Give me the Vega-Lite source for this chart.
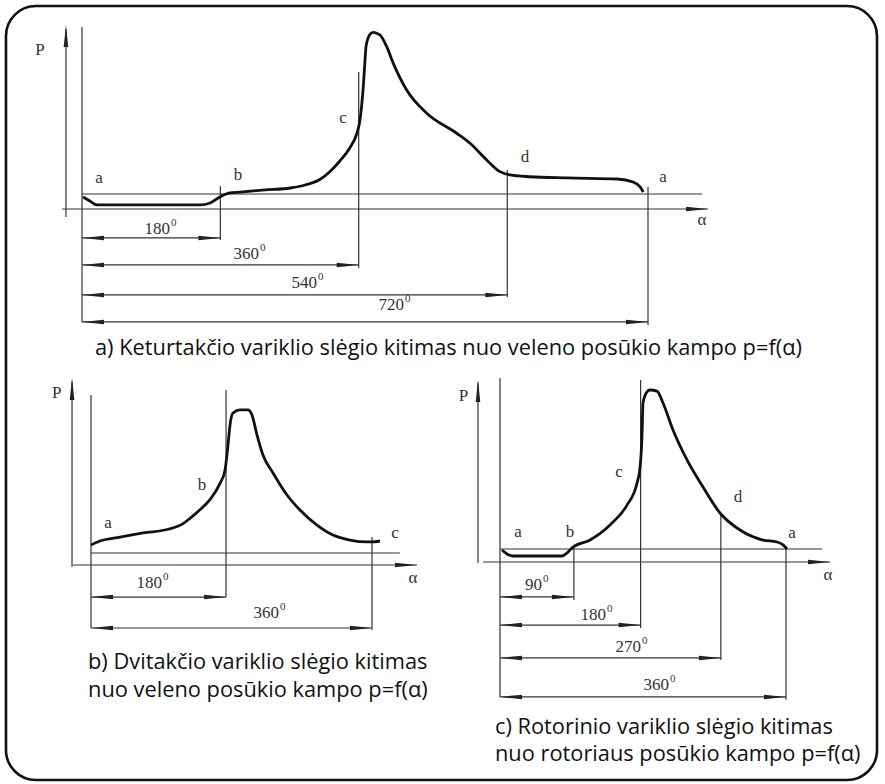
{
  "$schema": "https://vega.github.io/schema/vega-lite/v6.json",
  "padding": 0,
  "background": "white",
  "spacing": 0,
  "bounds": "flush",
  "config": {
    "view": {"stroke": null},
    "axis": {"disable": true},
    "legend": {"disable": true}
  },
  "resolve": {"scale": {"x": "independent", "y": "independent"}},
  "datasets": {
    "frameA": [{"a": -96.7, "p": 13.53, "a2": 1011.3, "p2": -38.07}],
    "curveA": [
      {"a": 1.3, "p": 0.8}, {"a": 10, "p": 0.53}, {"a": 19, "p": 0.27}, {"a": 86, "p": 0.27}, {"a": 150, "p": 0.27},
      {"a": 163, "p": 0.4}, {"a": 175.5, "p": 0.8}, {"a": 188, "p": 1.07}, {"a": 201, "p": 1.13}, {"a": 233, "p": 1.27},
      {"a": 265, "p": 1.4}, {"a": 284, "p": 1.6}, {"a": 303, "p": 1.98}, {"a": 315.5, "p": 2.5}, {"a": 328, "p": 3.2},
      {"a": 341, "p": 4.1}, {"a": 349.4, "p": 5.0}, {"a": 353.6, "p": 5.93}, {"a": 355.8, "p": 6.93}, {"a": 357.8, "p": 8.15},
      {"a": 359.5, "p": 9.5}, {"a": 361.3, "p": 10.82}, {"a": 364, "p": 11.4}, {"a": 367, "p": 11.68}, {"a": 370.6, "p": 11.78},
      {"a": 376, "p": 11.68}, {"a": 379.1, "p": 11.6}, {"a": 387.6, "p": 10.82}, {"a": 396, "p": 9.71}, {"a": 413, "p": 7.93},
      {"a": 438.5, "p": 6.38}, {"a": 476.6, "p": 5.05}, {"a": 493.6, "p": 4.38}, {"a": 514.8, "p": 3.27}, {"a": 531.7, "p": 2.49},
      {"a": 544.5, "p": 2.27}, {"a": 569.9, "p": 2.15}, {"a": 617, "p": 2.07}, {"a": 681, "p": 2.0}, {"a": 701, "p": 1.8},
      {"a": 710, "p": 1.47}, {"a": 714, "p": 1.13}
    ],
    "segA": [
      {"a": -20.4, "p": -0.53, "a2": -20.4, "p2": 12.0},
      {"a": 0, "p": 12.13, "a2": 0, "p2": -7.53},
      {"a": 176, "p": 1.53, "a2": 176, "p2": -2.07},
      {"a": 352, "p": 9.13, "a2": 352, "p2": -3.93},
      {"a": 541, "p": 2.6, "a2": 541, "p2": -5.87},
      {"a": 720, "p": 1.47, "a2": 720, "p2": -7.73},
      {"a": 0, "p": 1, "a2": 788.7, "p2": 1},
      {"a": -25.4, "p": 0, "a2": 796.4, "p2": 0},
      {"a": 0, "p": -1.93, "a2": 176, "p2": -1.93},
      {"a": 0, "p": -3.73, "a2": 352, "p2": -3.73},
      {"a": 0, "p": -5.73, "a2": 541, "p2": -5.73},
      {"a": 0, "p": -7.53, "a2": 720, "p2": -7.53}
    ],
    "arrowA": [
      {"a": -20.4, "p": 12.27, "dir": "up"}, {"a": 796.4, "p": 0, "dir": "right"},
      {"a": 0, "p": -1.93, "dir": "left"}, {"a": 176, "p": -1.93, "dir": "right"},
      {"a": 0, "p": -3.73, "dir": "left"}, {"a": 352, "p": -3.73, "dir": "right"},
      {"a": 0, "p": -5.73, "dir": "left"}, {"a": 541, "p": -5.73, "dir": "right"},
      {"a": 0, "p": -7.53, "dir": "left"}, {"a": 720, "p": -7.53, "dir": "right"}
    ],
    "labA": [
      {"a": -53.4, "p": 10.6, "t": "P"}, {"a": 21.6, "p": 2.07, "t": "a"}, {"a": 198.4, "p": 2.27, "t": "b"},
      {"a": 332, "p": 6.07, "t": "c"}, {"a": 563.5, "p": 3.47, "t": "d"}, {"a": 739, "p": 2.13, "t": "a"},
      {"a": 788.7, "p": -0.73, "t": "α"}
    ],
    "degA": [
      {"a": 111.9, "p": -1.3, "t": "180"}, {"a": 225.1, "p": -3.0, "t": "360"},
      {"a": 298.9, "p": -4.93, "t": "540"}, {"a": 409.6, "p": -6.4, "t": "720"}
    ],
    "capA": [{"a": 16.5, "p": -9.27, "t": "a) Keturtakčio variklio slėgio kitimas nuo veleno posūkio kampo p=f(α)"}],
    "curveB": [
      {"a": 0, "p": 1.67}, {"a": 11.5, "p": 2.0}, {"a": 37.2, "p": 2.33}, {"a": 66.6, "p": 2.67}, {"a": 100, "p": 3.0},
      {"a": 118, "p": 3.45}, {"a": 128, "p": 3.95}, {"a": 139.6, "p": 4.6}, {"a": 152.4, "p": 5.45}, {"a": 165.3, "p": 6.8},
      {"a": 171.7, "p": 7.9}, {"a": 175.5, "p": 10.0}, {"a": 178.1, "p": 11.67}, {"a": 181.9, "p": 12.67}, {"a": 190.9, "p": 12.92},
      {"a": 201.1, "p": 12.92}, {"a": 206.2, "p": 12.5}, {"a": 212.7, "p": 10.83}, {"a": 220.3, "p": 9.17}, {"a": 233.2, "p": 7.67},
      {"a": 251.1, "p": 5.83}, {"a": 267.7, "p": 4.58}, {"a": 289.5, "p": 3.33}, {"a": 310, "p": 2.5}, {"a": 331.8, "p": 2.08},
      {"a": 353.6, "p": 1.92}, {"a": 360, "p": 1.92}, {"a": 370.2, "p": 2.0}
    ],
    "segB": [
      {"a": -24.3, "p": -0.17, "a2": -24.3, "p2": 15.3},
      {"a": 0, "p": 14.17, "a2": 0, "p2": -5.25},
      {"a": 173, "p": 14.58, "a2": 173, "p2": -2.67},
      {"a": 360, "p": 2.33, "a2": 360, "p2": -5.42},
      {"a": 0, "p": 1, "a2": 395.8, "p2": 1},
      {"a": -23, "p": 0, "a2": 417.6, "p2": 0},
      {"a": 0, "p": -2.67, "a2": 173, "p2": -2.67},
      {"a": 0, "p": -5.25, "a2": 360, "p2": -5.25}
    ],
    "arrowB": [
      {"a": -24.3, "p": 15.58, "dir": "up"}, {"a": 417.6, "p": 0, "dir": "right"},
      {"a": 0, "p": -2.67, "dir": "left"}, {"a": 173, "p": -2.67, "dir": "right"},
      {"a": 0, "p": -5.25, "dir": "left"}, {"a": 360, "p": -5.25, "dir": "right"}
    ],
    "labB": [
      {"a": -44, "p": 14.33, "t": "P"}, {"a": 21.8, "p": 3.5, "t": "a"}, {"a": 142.2, "p": 6.67, "t": "b"},
      {"a": 389.4, "p": 2.67, "t": "c"}, {"a": 412.5, "p": -1.08, "t": "α"}
    ],
    "degB": [
      {"a": 90.9, "p": -1.5, "t": "180"}, {"a": 240.8, "p": -4.0, "t": "360"}
    ],
    "capB": [
      {"a": -3.8, "p": -8.08, "t": "b) Dvitakčio variklio slėgio kitimas"},
      {"a": -3.8, "p": -10.42, "t": "nuo veleno posūkio kampo p=f(α)"}
    ],
    "curveC": [
      {"a": 2.5, "p": 0.92}, {"a": 8.8, "p": 0.62}, {"a": 16.4, "p": 0.46}, {"a": 50.4, "p": 0.46}, {"a": 78, "p": 0.46},
      {"a": 84.3, "p": 0.69}, {"a": 90.6, "p": 1.08}, {"a": 113.3, "p": 1.69}, {"a": 138.5, "p": 2.85}, {"a": 159.9, "p": 4.38},
      {"a": 172.5, "p": 6.08}, {"a": 176.2, "p": 7.23}, {"a": 178.7, "p": 9.62}, {"a": 180, "p": 12.23}, {"a": 185, "p": 13.08},
      {"a": 188.8, "p": 13.23}, {"a": 197.6, "p": 13.15}, {"a": 205.2, "p": 12.23}, {"a": 217.8, "p": 10.15}, {"a": 235.4, "p": 7.85},
      {"a": 255.5, "p": 5.77}, {"a": 276.9, "p": 3.77}, {"a": 302.1, "p": 2.46}, {"a": 331.1, "p": 1.69}, {"a": 348.7, "p": 1.54},
      {"a": 356.2, "p": 1.31}, {"a": 361.3, "p": 1.0}
    ],
    "segC": [
      {"a": -27.7, "p": -0.08, "a2": -27.7, "p2": 13.8},
      {"a": 0, "p": 14.15, "a2": 0, "p2": -10.38},
      {"a": 93, "p": 1.15, "a2": 93, "p2": -2.92},
      {"a": 177, "p": 14, "a2": 177, "p2": -5.08},
      {"a": 278, "p": 3.77, "a2": 278, "p2": -7.54},
      {"a": 360, "p": 1, "a2": 360, "p2": -10.6},
      {"a": 0, "p": 1, "a2": 405.3, "p2": 1},
      {"a": -21.4, "p": 0, "a2": 415.4, "p2": 0},
      {"a": 0, "p": -2.69, "a2": 93, "p2": -2.69},
      {"a": 0, "p": -4.85, "a2": 177, "p2": -4.85},
      {"a": 0, "p": -7.38, "a2": 278, "p2": -7.38},
      {"a": 0, "p": -10.38, "a2": 360, "p2": -10.38}
    ],
    "arrowC": [
      {"a": -27.7, "p": 14, "dir": "up"}, {"a": 415.4, "p": 0, "dir": "right"},
      {"a": 0, "p": -2.69, "dir": "left"}, {"a": 93, "p": -2.69, "dir": "right"},
      {"a": 0, "p": -4.85, "dir": "left"}, {"a": 177, "p": -4.85, "dir": "right"},
      {"a": 0, "p": -7.38, "dir": "left"}, {"a": 278, "p": -7.38, "dir": "right"},
      {"a": 0, "p": -10.38, "dir": "left"}, {"a": 360, "p": -10.38, "dir": "right"}
    ],
    "labC": [
      {"a": -46, "p": 12.77, "t": "P"}, {"a": 22.7, "p": 2.31, "t": "a"}, {"a": 88.1, "p": 2.31, "t": "b"},
      {"a": 149.8, "p": 6.92, "t": "c"}, {"a": 299.6, "p": 5.0, "t": "d"}, {"a": 367.6, "p": 2.23, "t": "a"},
      {"a": 412.9, "p": -1.0, "t": "α"}
    ],
    "degC": [
      {"a": 52.9, "p": -1.77, "t": "90"}, {"a": 133.4, "p": -4.08, "t": "180"},
      {"a": 177.5, "p": -6.54, "t": "270"}, {"a": 212.7, "p": -9.46, "t": "360"}
    ],
    "capC": [
      {"a": -6.3, "p": -12.69, "t": "c) Rotorinio variklio slėgio kitimas"},
      {"a": -6.3, "p": -14.77, "t": "nuo rotoriaus posūkio kampo p=f(α)"}
    ]
  },
  "vconcat": [
    {
      "width": 885,
      "height": 360,
      "encoding": {
        "x": {"field": "a", "type": "quantitative", "scale": {"domain": [0, 720], "range": [82, 648], "nice": false, "zero": false}},
        "y": {"field": "p", "type": "quantitative", "scale": {"domain": [0, 12], "range": [209, 29], "nice": false, "zero": false}}
      },
      "layer": [
        {"data": {"name": "frameA"}, "mark": {"type": "rect", "filled": false, "stroke": "#111", "strokeWidth": 2.6, "cornerRadius": 30},
         "encoding": {"x2": {"field": "a2"}, "y2": {"field": "p2"}}},
        {"data": {"name": "segA"}, "mark": {"type": "rule", "color": "#333", "strokeWidth": 1.2},
         "encoding": {"x2": {"field": "a2"}, "y2": {"field": "p2"}}},
        {"data": {"name": "curveA"}, "mark": {"type": "line", "color": "#111", "strokeWidth": 2.8, "interpolate": "monotone"}, "encoding": {}},
        {"data": {"name": "arrowA"}, "mark": {"type": "point", "filled": true, "size": 484, "color": "#222", "opacity": 1, "strokeWidth": 0},
         "encoding": {"shape": {"field": "dir", "type": "nominal", "legend": null, "scale": {"domain": ["left", "right", "up"], "range": ["M0,0L2,-0.21L2,0.21Z", "M0,0L-2,-0.21L-2,0.21Z", "M0,0L-0.21,2L0.21,2Z"]}}}},
        {"data": {"name": "labA"}, "mark": {"type": "text", "font": "Liberation Serif", "fontSize": 17, "color": "#333", "baseline": "middle", "align": "center"},
         "encoding": {"text": {"field": "t"}}},
        {"data": {"name": "degA"}, "mark": {"type": "text", "font": "Liberation Serif", "fontSize": 17, "color": "#333", "baseline": "middle", "align": "right"},
         "encoding": {"text": {"field": "t"}}},
        {"data": {"name": "degA"}, "mark": {"type": "text", "font": "Liberation Serif", "fontSize": 11, "color": "#333", "baseline": "middle", "align": "left", "dx": 1, "dy": -6},
         "encoding": {"text": {"value": "0"}}},
        {"data": {"name": "capA"}, "mark": {"type": "text", "font": "Open Sans", "fontSize": 21.8, "color": "#111", "baseline": "middle", "align": "left"},
         "encoding": {"text": {"field": "t"}}}
      ]
    },
    {
      "hconcat": [
        {
          "width": 440,
          "height": 424,
          "encoding": {
            "x": {"field": "a", "type": "quantitative", "scale": {"domain": [0, 360], "range": [91, 372], "nice": false, "zero": false}},
            "y": {"field": "p", "type": "quantitative", "scale": {"domain": [0, 14], "range": [205, 37], "nice": false, "zero": false}}
          },
          "layer": [
            {"data": {"name": "segB"}, "mark": {"type": "rule", "color": "#333", "strokeWidth": 1.2},
             "encoding": {"x2": {"field": "a2"}, "y2": {"field": "p2"}}},
            {"data": {"name": "curveB"}, "mark": {"type": "line", "color": "#111", "strokeWidth": 2.8, "interpolate": "monotone"}, "encoding": {}},
            {"data": {"name": "arrowB"}, "mark": {"type": "point", "filled": true, "size": 484, "color": "#222", "opacity": 1, "strokeWidth": 0},
             "encoding": {"shape": {"field": "dir", "type": "nominal", "legend": null, "scale": {"domain": ["left", "right", "up"], "range": ["M0,0L2,-0.21L2,0.21Z", "M0,0L-2,-0.21L-2,0.21Z", "M0,0L-0.21,2L0.21,2Z"]}}}},
            {"data": {"name": "labB"}, "mark": {"type": "text", "font": "Liberation Serif", "fontSize": 17, "color": "#333", "baseline": "middle", "align": "center"},
             "encoding": {"text": {"field": "t"}}},
            {"data": {"name": "degB"}, "mark": {"type": "text", "font": "Liberation Serif", "fontSize": 17, "color": "#333", "baseline": "middle", "align": "right"},
             "encoding": {"text": {"field": "t"}}},
            {"data": {"name": "degB"}, "mark": {"type": "text", "font": "Liberation Serif", "fontSize": 11, "color": "#333", "baseline": "middle", "align": "left", "dx": 1, "dy": -6},
             "encoding": {"text": {"value": "0"}}},
            {"data": {"name": "capB"}, "mark": {"type": "text", "font": "Open Sans", "fontSize": 21.8, "color": "#111", "baseline": "middle", "align": "left"},
             "encoding": {"text": {"field": "t"}}}
          ]
        },
        {
          "width": 445,
          "height": 424,
          "encoding": {
            "x": {"field": "a", "type": "quantitative", "scale": {"domain": [0, 360], "range": [60, 346], "nice": false, "zero": false}},
            "y": {"field": "p", "type": "quantitative", "scale": {"domain": [0, 14], "range": [202, 20], "nice": false, "zero": false}}
          },
          "layer": [
            {"data": {"name": "segC"}, "mark": {"type": "rule", "color": "#333", "strokeWidth": 1.2},
             "encoding": {"x2": {"field": "a2"}, "y2": {"field": "p2"}}},
            {"data": {"name": "curveC"}, "mark": {"type": "line", "color": "#111", "strokeWidth": 2.8, "interpolate": "monotone"}, "encoding": {}},
            {"data": {"name": "arrowC"}, "mark": {"type": "point", "filled": true, "size": 484, "color": "#222", "opacity": 1, "strokeWidth": 0},
             "encoding": {"shape": {"field": "dir", "type": "nominal", "legend": null, "scale": {"domain": ["left", "right", "up"], "range": ["M0,0L2,-0.21L2,0.21Z", "M0,0L-2,-0.21L-2,0.21Z", "M0,0L-0.21,2L0.21,2Z"]}}}},
            {"data": {"name": "labC"}, "mark": {"type": "text", "font": "Liberation Serif", "fontSize": 17, "color": "#333", "baseline": "middle", "align": "center"},
             "encoding": {"text": {"field": "t"}}},
            {"data": {"name": "degC"}, "mark": {"type": "text", "font": "Liberation Serif", "fontSize": 17, "color": "#333", "baseline": "middle", "align": "right"},
             "encoding": {"text": {"field": "t"}}},
            {"data": {"name": "degC"}, "mark": {"type": "text", "font": "Liberation Serif", "fontSize": 11, "color": "#333", "baseline": "middle", "align": "left", "dx": 1, "dy": -6},
             "encoding": {"text": {"value": "0"}}},
            {"data": {"name": "capC"}, "mark": {"type": "text", "font": "Open Sans", "fontSize": 21.8, "color": "#111", "baseline": "middle", "align": "left"},
             "encoding": {"text": {"field": "t"}}}
          ]
        }
      ],
      "spacing": 0,
      "bounds": "flush",
      "resolve": {"scale": {"x": "independent", "y": "independent"}}
    }
  ]
}
